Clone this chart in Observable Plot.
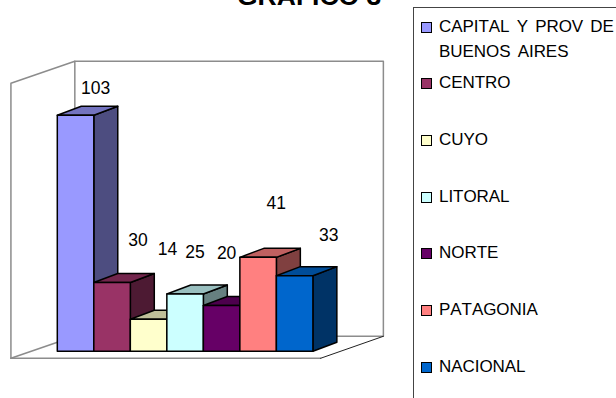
<!DOCTYPE html>
<html lang="es">
<head>
<meta charset="utf-8">
<title>GRAFICO 3</title>
<script src="https://cdn.jsdelivr.net/npm/d3@7"></script>
<script src="https://cdn.jsdelivr.net/npm/@observablehq/plot@0.6"></script>
<style>
  html, body { margin: 0; padding: 0; background: #fff; overflow: hidden; }
  #page { position: relative; width: 616px; height: 398px; overflow: hidden; font-family: "Liberation Sans", Arial, sans-serif; color: #000; }
  #page svg { display: block; position: absolute; left: 0; top: 0; }
  #titulo { position: absolute; left: 237px; top: -19px; margin: 0; font-size: 26.5px; line-height: 30px; font-weight: bold; white-space: nowrap; }
  #leyenda { position: absolute; left: 413px; top: 7px; width: 300px; height: 420px; border-left: 1.5px solid #444; border-top: 1.5px solid #444; }
  .item { position: absolute; left: 25px; font-size: 17px; line-height: 25px; white-space: nowrap; font-kerning: none; letter-spacing: -.05px; word-spacing: 2.5px; }
  .muestra { position: absolute; left: 7px; width: 9px; height: 9px; border: 1.5px solid #000; }
</style>
</head>
<body>
<div id="page">
  <h1 id="titulo">GRAFICO 3</h1>
  <div id="grafico"></div>
  <div id="leyenda"></div>
</div>
<script>
// Chart values by region
const regiones = ["CAPITAL Y PROV DE BUENOS AIRES", "CENTRO", "CUYO", "LITORAL", "NORTE", "PATAGONIA", "NACIONAL"];
const valores = [103, 30, 14, 25, 20, 41, 33];
const colores = ["#9999FF", "#993366", "#FFFFCC", "#CCFFFF", "#660066", "#FF8080", "#0066CC"];

// Oblique projection of the bars, in scale units
const profundidadX = 0.656;
const profundidadY = 3.93;

// Extent of the walls and floor, in scale units
const paredIzq = -1.27, paredFondo = 0.48, pisoDer = 7.21, fondoDer = 8.93;
const pisoFrente = -3.05, pisoFondo = 6.55, altura = 120;

// Pixel nudges of the value labels, which float away from the bar tops
const nudgeX = [20, 26, 19, 10, 5, 18, 34];
const nudgeY = [-27, -42, -70, -42, -52, -54, -40];

// Vertical centres of the legend entries
const leyendaY = [20, 76, 133, 190, 246, 303, 360];

function sombra(color, k) {
  const c = d3.rgb(color);
  return d3.rgb(c.r * k, c.g * k, c.b * k).formatHex();
}

// Faces are listed bar by bar, left to right, so nearer faces paint last
const caras = [];
valores.forEach((v, i) => {
  const x0 = i, x1 = i + 1, dx = profundidadX, dy = profundidadY, c = colores[i];
  const cara = (nombre, fill, pts) => pts.forEach(([x, y]) => caras.push({cara: `${i}-${nombre}`, fill, x, y}));
  cara("lado", sombra(c, 0.5), [[x1, 0], [x1 + dx, dy], [x1 + dx, v + dy], [x1, v]]);
  cara("tapa", sombra(c, 0.75), [[x0, v], [x0 + dx, v + dy], [x1 + dx, v + dy], [x1, v]]);
  cara("frente", c, [[x0, 0], [x1, 0], [x1, v], [x0, v]]);
});

const bordeGris = [
  [[paredIzq, pisoFrente], [paredIzq, pisoFrente + altura], [paredFondo, pisoFondo + altura], [paredFondo, pisoFondo]],
  [[paredFondo, pisoFondo + altura], [fondoDer, pisoFondo + altura], [fondoDer, pisoFondo], [paredFondo, pisoFondo]],
  [[paredIzq, pisoFrente], [pisoDer, pisoFrente]],
  [[paredIzq, pisoFrente], [paredFondo, pisoFondo]]
].flatMap((pts, s) => pts.map(([x, y]) => ({s, x, y})));

const bordeNegro = [{x: pisoDer, y: pisoFrente}, {x: fondoDer, y: pisoFondo}];

const chart = Plot.plot({
  width: 616,
  height: 398,
  margin: 0,
  style: {background: "transparent", fontFamily: "'Liberation Sans', Arial, sans-serif"},
  x: {type: "linear", domain: [0, 7], range: [56.8, 312.4], axis: null},
  y: {type: "linear", domain: [0, 120], range: [350.8, 75.8], axis: null},
  color: {type: "identity"},
  marks: [
    Plot.line(bordeGris, {x: "x", y: "y", z: "s", stroke: "#8c8c8c", strokeWidth: 1.5}),
    Plot.line(bordeNegro, {x: "x", y: "y", stroke: "#222", strokeWidth: 1}),
    Plot.line(caras, {
      x: "x", y: "y", z: "cara", fill: "fill",
      stroke: "#000", strokeWidth: 1.5, strokeLinejoin: "round",
      curve: "linear-closed"
    }),
    ...valores.map((v, i) => Plot.text([v], {
      x: i + 0.5, y: v, text: d => String(d),
      dx: nudgeX[i], dy: nudgeY[i],
      fontSize: 17.5, fill: "#000"
    }))
  ]
});
document.getElementById("grafico").append(chart);

// Legend: one swatch and label per region
const leyenda = document.getElementById("leyenda");
regiones.forEach((r, i) => {
  const m = document.createElement("div");
  m.className = "muestra";
  m.style.top = (leyendaY[i] - 6) + "px";
  m.style.background = colores[i];
  leyenda.append(m);
  const t = document.createElement("div");
  t.className = "item";
  t.style.top = (leyendaY[i] - 14) + "px";
  if (i === 0) {
    t.innerHTML = "CAPITAL Y PROV DE<br>BUENOS AIRES";
  } else {
    t.textContent = r;
  }
  leyenda.append(t);
});
</script>
</body>
</html>
